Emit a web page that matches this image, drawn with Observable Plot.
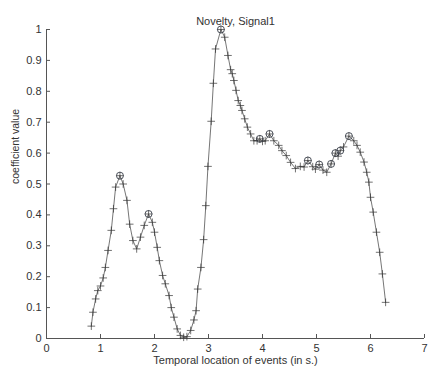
<!DOCTYPE html>
<html>
<head>
<meta charset="utf-8">
<script src="https://cdn.jsdelivr.net/npm/d3@7"></script>
<script src="https://cdn.jsdelivr.net/npm/@observablehq/plot@0.6"></script>
<style>
  html, body { margin: 0; padding: 0; background: #fff; }
  svg { display: block; }
</style>
</head>
<body>
<div id="chart"></div>
<script>
const title = "Novelty, Signal1";
const xLabel = "Temporal location of events (in s.)";
const yLabel = "coefficient value";
const xTicks = [0, 1, 2, 3, 4, 5, 6, 7];
const yTicks = [0, 0.1, 0.2, 0.3, 0.4, 0.5, 0.6, 0.7, 0.8, 0.9, 1];

const times = [0.83,0.86,0.91,0.95,1.0,1.05,1.09,1.14,1.2,1.24,1.28,1.36,1.42,1.49,1.54,1.6,1.67,1.74,1.81,1.89,
  1.96,2.0,2.05,2.09,2.15,2.2,2.27,2.31,2.36,2.42,2.48,2.54,2.6,2.67,2.73,2.77,2.8,2.86,2.91,2.95,
  2.99,3.05,3.09,3.13,3.23,3.3,3.36,3.41,3.44,3.47,3.51,3.55,3.59,3.62,3.67,3.72,3.78,3.84,3.9,3.95,
  4.0,4.05,4.13,4.21,4.3,4.36,4.44,4.52,4.61,4.7,4.77,4.84,4.93,4.98,5.05,5.12,5.19,5.27,5.35,5.4,
  5.44,5.5,5.6,5.69,5.75,5.81,5.88,5.93,5.97,6.0,6.05,6.11,6.17,6.22,6.28];
const values = [0.04,0.085,0.128,0.155,0.17,0.196,0.23,0.285,0.35,0.42,0.49,0.527,0.50,0.447,0.37,0.317,0.29,0.328,0.366,0.403,
  0.376,0.344,0.295,0.252,0.204,0.177,0.139,0.10,0.069,0.031,0.01,0.004,0.006,0.026,0.06,0.09,0.16,0.23,0.32,0.43,
  0.557,0.703,0.826,0.937,1.0,0.975,0.916,0.87,0.857,0.835,0.803,0.77,0.754,0.738,0.711,0.684,0.662,0.64,0.64,0.646,
  0.638,0.64,0.662,0.64,0.625,0.608,0.592,0.57,0.55,0.557,0.555,0.576,0.556,0.548,0.563,0.545,0.538,0.565,0.6,0.59,
  0.608,0.62,0.655,0.64,0.625,0.603,0.571,0.538,0.506,0.457,0.409,0.344,0.279,0.209,0.117];

const peakTimes = [1.36, 1.89, 3.23, 3.95, 4.13, 4.84, 5.05, 5.27, 5.35, 5.44, 5.6];
const peakValues = [0.527, 0.403, 1.0, 0.646, 0.662, 0.576, 0.563, 0.565, 0.6, 0.608, 0.655];

const series = times.map((t, i) => ({t, v: values[i]}));
const peaks = peakTimes.map((t, i) => ({t, v: peakValues[i]}));

const font = "'Liberation Sans', Arial, sans-serif";

const chart = Plot.plot({
  width: 430,
  height: 370,
  marginLeft: 46,
  marginRight: 6,
  marginTop: 29,
  marginBottom: 32,
  style: {fontFamily: font, fontSize: "11px", background: "#fff", color: "#333"},
  x: {domain: [0, 7], ticks: xTicks},
  y: {domain: [0, 1], ticks: yTicks},
  marks: [
    Plot.axisX({ticks: xTicks, tickSize: 0, tickPadding: 6, tickFormat: d => String(d), label: null, fontSize: 11}),
    Plot.axisX({ticks: xTicks, tickSize: -4, text: null, label: null, stroke: "#555"}),
    Plot.axisY({ticks: yTicks, tickSize: 0, tickPadding: 5, tickFormat: d => String(+d.toFixed(1)), label: null, fontSize: 11}),
    Plot.axisY({ticks: yTicks, tickSize: -4, text: null, label: null, stroke: "#555"}),
    Plot.ruleX([0], {stroke: "#555", strokeWidth: 1}),
    Plot.ruleY([0], {stroke: "#555", strokeWidth: 1}),
    Plot.line(series, {x: "t", y: "v", stroke: "#666", strokeWidth: 0.9}),
    Plot.dot(series, {x: "t", y: "v", symbol: "plus", r: 2.6, stroke: "#333", strokeWidth: 0.7}),
    Plot.dot(peaks, {x: "t", y: "v", symbol: "circle", r: 3.5, stroke: "#3a3f4a", strokeWidth: 0.9, fill: "none"}),
    Plot.text([title], {frameAnchor: "top", dy: -12, fontSize: 11, fill: "#333"}),
    Plot.text([xLabel], {frameAnchor: "bottom", dy: 25, fontSize: 11, fill: "#333"}),
    Plot.text([yLabel], {frameAnchor: "left", dx: -31, rotate: -90, fontSize: 10.5, fill: "#333"})
  ]
});
document.getElementById("chart").appendChild(chart);
</script>
</body>
</html>
